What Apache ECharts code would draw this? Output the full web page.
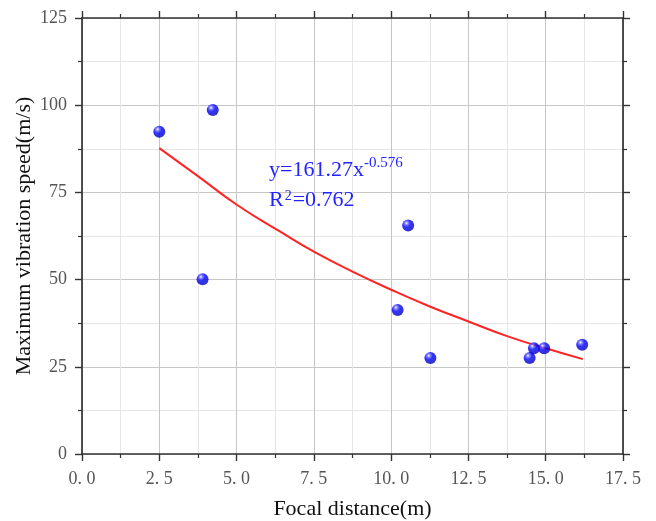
<!DOCTYPE html>
<html>
<head>
<meta charset="utf-8">
<title>Maximum vibration speed vs focal distance</title>
<script src="https://cdn.jsdelivr.net/npm/echarts@6/dist/echarts.min.js"></script>
<style>
  html, body { margin: 0; padding: 0; background: #ffffff; }
  #chart { width: 656px; height: 521px; }
</style>
</head>
<body>
<div id="chart"></div>
<script>
// Measured points: focal distance (m) and maximum vibration speed (m/s)
const distance = [2.50, 3.90, 4.23, 10.21, 10.55, 11.27, 14.48, 14.62, 14.95, 16.18];
const speed    = [92.4, 50.1, 98.6, 41.3, 65.5, 27.5, 27.5, 30.3, 30.3, 31.3];

// Fitted power-law curve, sampled along the focal distance range
const fitDistance = [2.5, 3.76, 5.02, 6.4, 7.5, 8.75, 10.0, 11.25, 12.5, 13.75, 15.0, 16.2];
const fitSpeed    = [87.7, 79.6, 71.4, 63.8, 58.0, 52.3, 47.1, 42.3, 38.0, 33.8, 30.3, 27.2];

// Axis ranges and tick steps
const xRange = [0, 17.5];
const xStep = 2.5;
const yRange = [0, 125];
const yStep = 25;

const fitEquation = 'y=161.27x';
const fitExponent = '-0.576';
const fitR2 = '0.762';

const serif = '"Times New Roman", "Liberation Serif", serif';
const frameColor = '#333333';
const noteColor = '#2323ff';

function pairs(xs, ys) {
  return xs.map((x, i) => [x, ys[i]]);
}

// Shaded blue ball for the measured points
const ballFill = {
  type: 'radial', x: 0.36, y: 0.3, r: 0.72,
  colorStops: [
    { offset: 0, color: '#ffffff' },
    { offset: 0.18, color: '#6a6aff' },
    { offset: 0.45, color: '#0000ff' },
    { offset: 1, color: '#0000b4' }
  ]
};

function valueAxis(opts) {
  return Object.assign({
    type: 'value',
    axisLine: { show: true, onZero: false, lineStyle: { color: frameColor, width: 1.7 } },
    axisTick: { show: true, inside: false, length: 7, lineStyle: { color: frameColor, width: 1.4 } },
    minorTick: { show: true, splitNumber: 2, length: 4, lineStyle: { color: frameColor, width: 1.2 } },
    splitLine: { show: false },
    minorSplitLine: { show: false },
    axisLabel: { show: false }
  }, opts);
}

const chart = echarts.init(document.getElementById('chart'), null, { renderer: 'canvas' });

chart.setOption({
  animation: false,
  backgroundColor: '#ffffff',
  grid: { left: 82, right: 33, top: 18, bottom: 67, containLabel: false, outerBoundsMode: 'none' },
  xAxis: [
    valueAxis({
      position: 'bottom',
      min: xRange[0], max: xRange[1], interval: xStep,
      name: 'Focal distance(m)',
      nameLocation: 'middle',
      nameGap: 44,
      nameMoveOverlap: false,
      nameTextStyle: { fontFamily: serif, fontSize: 22, color: '#111' },
      splitLine: { show: true, lineStyle: { color: '#c6c6c6', width: 1 } },
      minorSplitLine: { show: true, lineStyle: { color: '#e6e6e6', width: 1 } },
      axisLabel: {
        show: true, margin: 16,
        fontFamily: serif, fontSize: 18, color: '#555555',
        formatter: v => v.toFixed(1).replace('.', '. ')
      }
    }),
    valueAxis({ position: 'top', min: xRange[0], max: xRange[1], interval: xStep })
  ],
  yAxis: [
    valueAxis({
      position: 'left',
      min: yRange[0], max: yRange[1], interval: yStep,
      name: 'Maximum vibration speed(m/s)',
      nameLocation: 'middle',
      nameGap: 47,
      nameMoveOverlap: false,
      nameTextStyle: { fontFamily: serif, fontSize: 22, color: '#111' },
      splitLine: { show: true, lineStyle: { color: '#c6c6c6', width: 1 } },
      minorSplitLine: { show: true, lineStyle: { color: '#e6e6e6', width: 1 } },
      axisLabel: {
        show: true, margin: 15,
        fontFamily: serif, fontSize: 18, color: '#555555'
      }
    }),
    valueAxis({ position: 'right', min: yRange[0], max: yRange[1], interval: yStep })
  ],
  series: [
    {
      name: 'Fit',
      type: 'line',
      data: pairs(fitDistance, fitSpeed),
      smooth: 0.5,
      showSymbol: false,
      lineStyle: { color: '#ff2424', width: 2 },
      z: 2
    },
    {
      name: 'Measured',
      type: 'scatter',
      data: pairs(distance, speed),
      symbol: 'circle',
      symbolSize: 12,
      itemStyle: { color: ballFill },
      z: 3
    }
  ],
  graphic: [
    {
      type: 'text',
      left: 269,
      top: 156,
      z: 10,
      style: {
        text: '{m|' + fitEquation + '}{s|' + fitExponent + '}\n{m|R}{t|2}{m|=' + fitR2 + '}',
        fill: noteColor,
        rich: {
          m: { fontFamily: serif, fontSize: 22, fill: noteColor, lineHeight: 30 },
          s: { fontFamily: serif, fontSize: 15, fill: noteColor, lineHeight: 30, padding: [0, 0, 13, 0] },
          t: { fontFamily: serif, fontSize: 14, fill: noteColor, lineHeight: 30, padding: [0, 1, 8, 1] }
        }
      }
    }
  ]
});
</script>
</body>
</html>
